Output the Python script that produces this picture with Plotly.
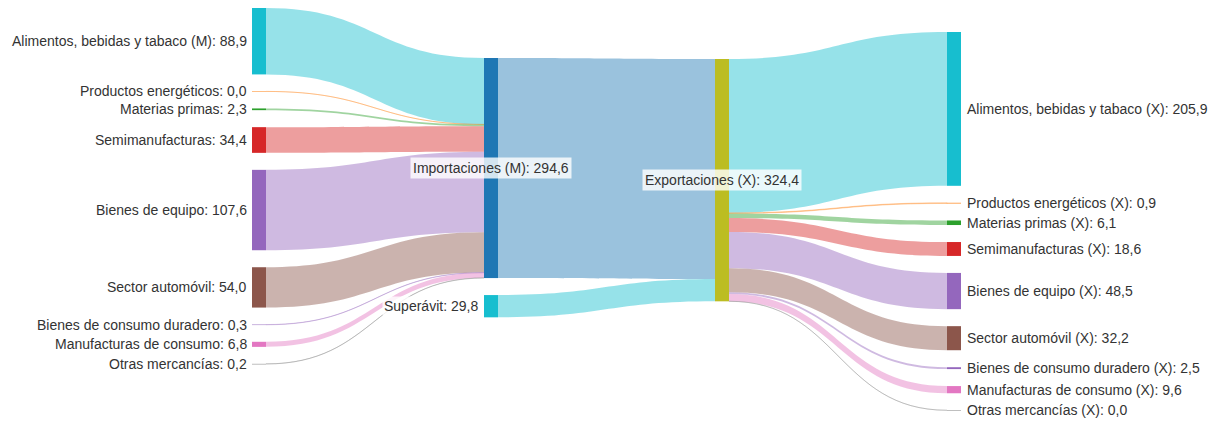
import plotly.graph_objects as go

# ---------------- data ----------------
categories = ["Alimentos, bebidas y tabaco", "Productos energéticos", "Materias primas",
              "Semimanufacturas", "Bienes de equipo", "Sector automóvil",
              "Bienes de consumo duradero", "Manufacturas de consumo", "Otras mercancías"]
imports_m = [88.9, 0.04, 2.3, 34.4, 107.6, 54.0, 0.3, 6.8, 0.2]
exports_x = [205.9, 0.9, 6.1, 18.6, 48.5, 32.2, 2.5, 9.6, 0.04]
total_imports = 294.6
total_exports = 324.4
superavit = 29.8

cat_colors = ["#17becf", "#ff7f0e", "#2ca02c", "#d62728", "#9467bd",
              "#8c564b", "#9467bd", "#e377c2", "#7f7f7f"]
col_imp = "#1f77b4"
col_exp = "#bcbd22"
col_sup = "#17becf"

# ---------------- layout parameters ----------------
W, H = 1218, 421
THICK = 14
KY = 0.747          # px per unit
GAP = 17            # px between stacked nodes
col_cx = [259, 491, 722, 954]          # column centres (px)
top_left, top_mid_imp, top_mid_exp, top_right = 8, 58, 59, 32
FONT = dict(family="Liberation Sans, Arial, sans-serif", size=14, color="#333333")


def fmt(v):
    return f"{v:.1f}".replace(".", ",")


def rgba(hexc, a):
    h = hexc.lstrip("#")
    return f"rgba({int(h[0:2],16)},{int(h[2:4],16)},{int(h[4:6],16)},{a})"


def link_alpha(v):
    return 0.3 if v < 1 else 0.45


n = len(categories)
labels, colors, xs_px, ys_px = [], [], [], []

# left column
t = top_left
for c, v, col in zip(categories, imports_m, cat_colors):
    h = v * KY
    labels.append(f"{c} (M): {fmt(v)}" if c == categories[0] else f"{c}: {fmt(v)}")
    colors.append(col); xs_px.append(col_cx[0]); ys_px.append(t + h / 2)
    t += h + GAP
# importaciones
h = total_imports * KY
labels.append(f"Importaciones (M): {fmt(total_imports)}"); colors.append(col_imp)
xs_px.append(col_cx[1]); ys_px.append(top_mid_imp + h / 2)
t = top_mid_imp + h + GAP
# superavit
h2 = superavit * KY
labels.append(f"Superávit: {fmt(superavit)}"); colors.append(col_sup)
xs_px.append(col_cx[1]); ys_px.append(t + h2 / 2)
# exportaciones
h = total_exports * KY
labels.append(f"Exportaciones (X): {fmt(total_exports)}"); colors.append(col_exp)
xs_px.append(col_cx[2]); ys_px.append(top_mid_exp + h / 2)
# right column
t = top_right
for c, v, col in zip(categories, exports_x, cat_colors):
    h = v * KY
    labels.append(f"{c} (X): {fmt(v)}")
    colors.append(col); xs_px.append(col_cx[3]); ys_px.append(t + h / 2)
    t += h + GAP

I_IMP, I_SUP, I_EXP = n, n + 1, n + 2
R0 = n + 3

src, tgt, val, lcol = [], [], [], []
for i, v in enumerate(imports_m):
    src.append(i); tgt.append(I_IMP); val.append(v); lcol.append(rgba(cat_colors[i], link_alpha(v)))
src.append(I_IMP); tgt.append(I_EXP); val.append(total_imports); lcol.append(rgba(col_imp, 0.45))
src.append(I_SUP); tgt.append(I_EXP); val.append(superavit); lcol.append(rgba(col_sup, 0.45))
for i, v in enumerate(exports_x):
    src.append(I_EXP); tgt.append(R0 + i); val.append(v); lcol.append(rgba(cat_colors[i], link_alpha(v)))

# plotly's padding chosen so that its scale (px/unit) equals KY
left_col_sum = sum(imports_m) + superavit
pad = (H - KY * left_col_sum) / 9

fig = go.Figure(go.Sankey(
    arrangement="fixed",
    domain=dict(x=[0, 1], y=[0, 1]),
    node=dict(
        label=[""] * len(labels),
        customdata=labels,
        hovertemplate="%{customdata}<extra></extra>",
        color=colors,
        thickness=THICK,
        pad=pad,
        line=dict(width=0),
        x=[x / W for x in xs_px],
        y=[y / H for y in ys_px],
    ),
    link=dict(source=src, target=tgt, value=val, color=lcol,
              line=dict(width=0),
              hovertemplate="%{value:.1f}<extra></extra>"),
))

annotations = []
for i, lab in enumerate(labels):
    cx, cy = xs_px[i], ys_px[i]
    yp = 1 - cy / H
    if i < n:
        annotations.append(dict(x=(cx - THICK / 2) / W, y=yp, xanchor="right", xshift=-3, text=lab))
    elif i >= R0:
        annotations.append(dict(x=(cx + THICK / 2) / W, y=yp, xanchor="left", xshift=4, text=lab))
    elif i == I_SUP:
        annotations.append(dict(x=(cx - THICK / 2) / W, y=yp, xanchor="right", xshift=-4, text=lab,
                                bgcolor="rgba(255,255,255,0.8)", borderpad=1))
    else:
        annotations.append(dict(x=cx / W, y=yp, xanchor="center", text=lab,
                                bgcolor="rgba(255,255,255,0.8)", borderpad=2))
for a in annotations:
    a.update(xref="paper", yref="paper", yanchor="middle", showarrow=False, font=FONT)

fig.update_layout(
    width=W, height=H,
    margin=dict(l=0, r=0, t=0, b=0),
    paper_bgcolor="white",
    font=FONT,
    annotations=annotations,
)

fig.write_html("out.html", config={"displayModeBar": False},
               post_script="document.body.style.margin='0';")
